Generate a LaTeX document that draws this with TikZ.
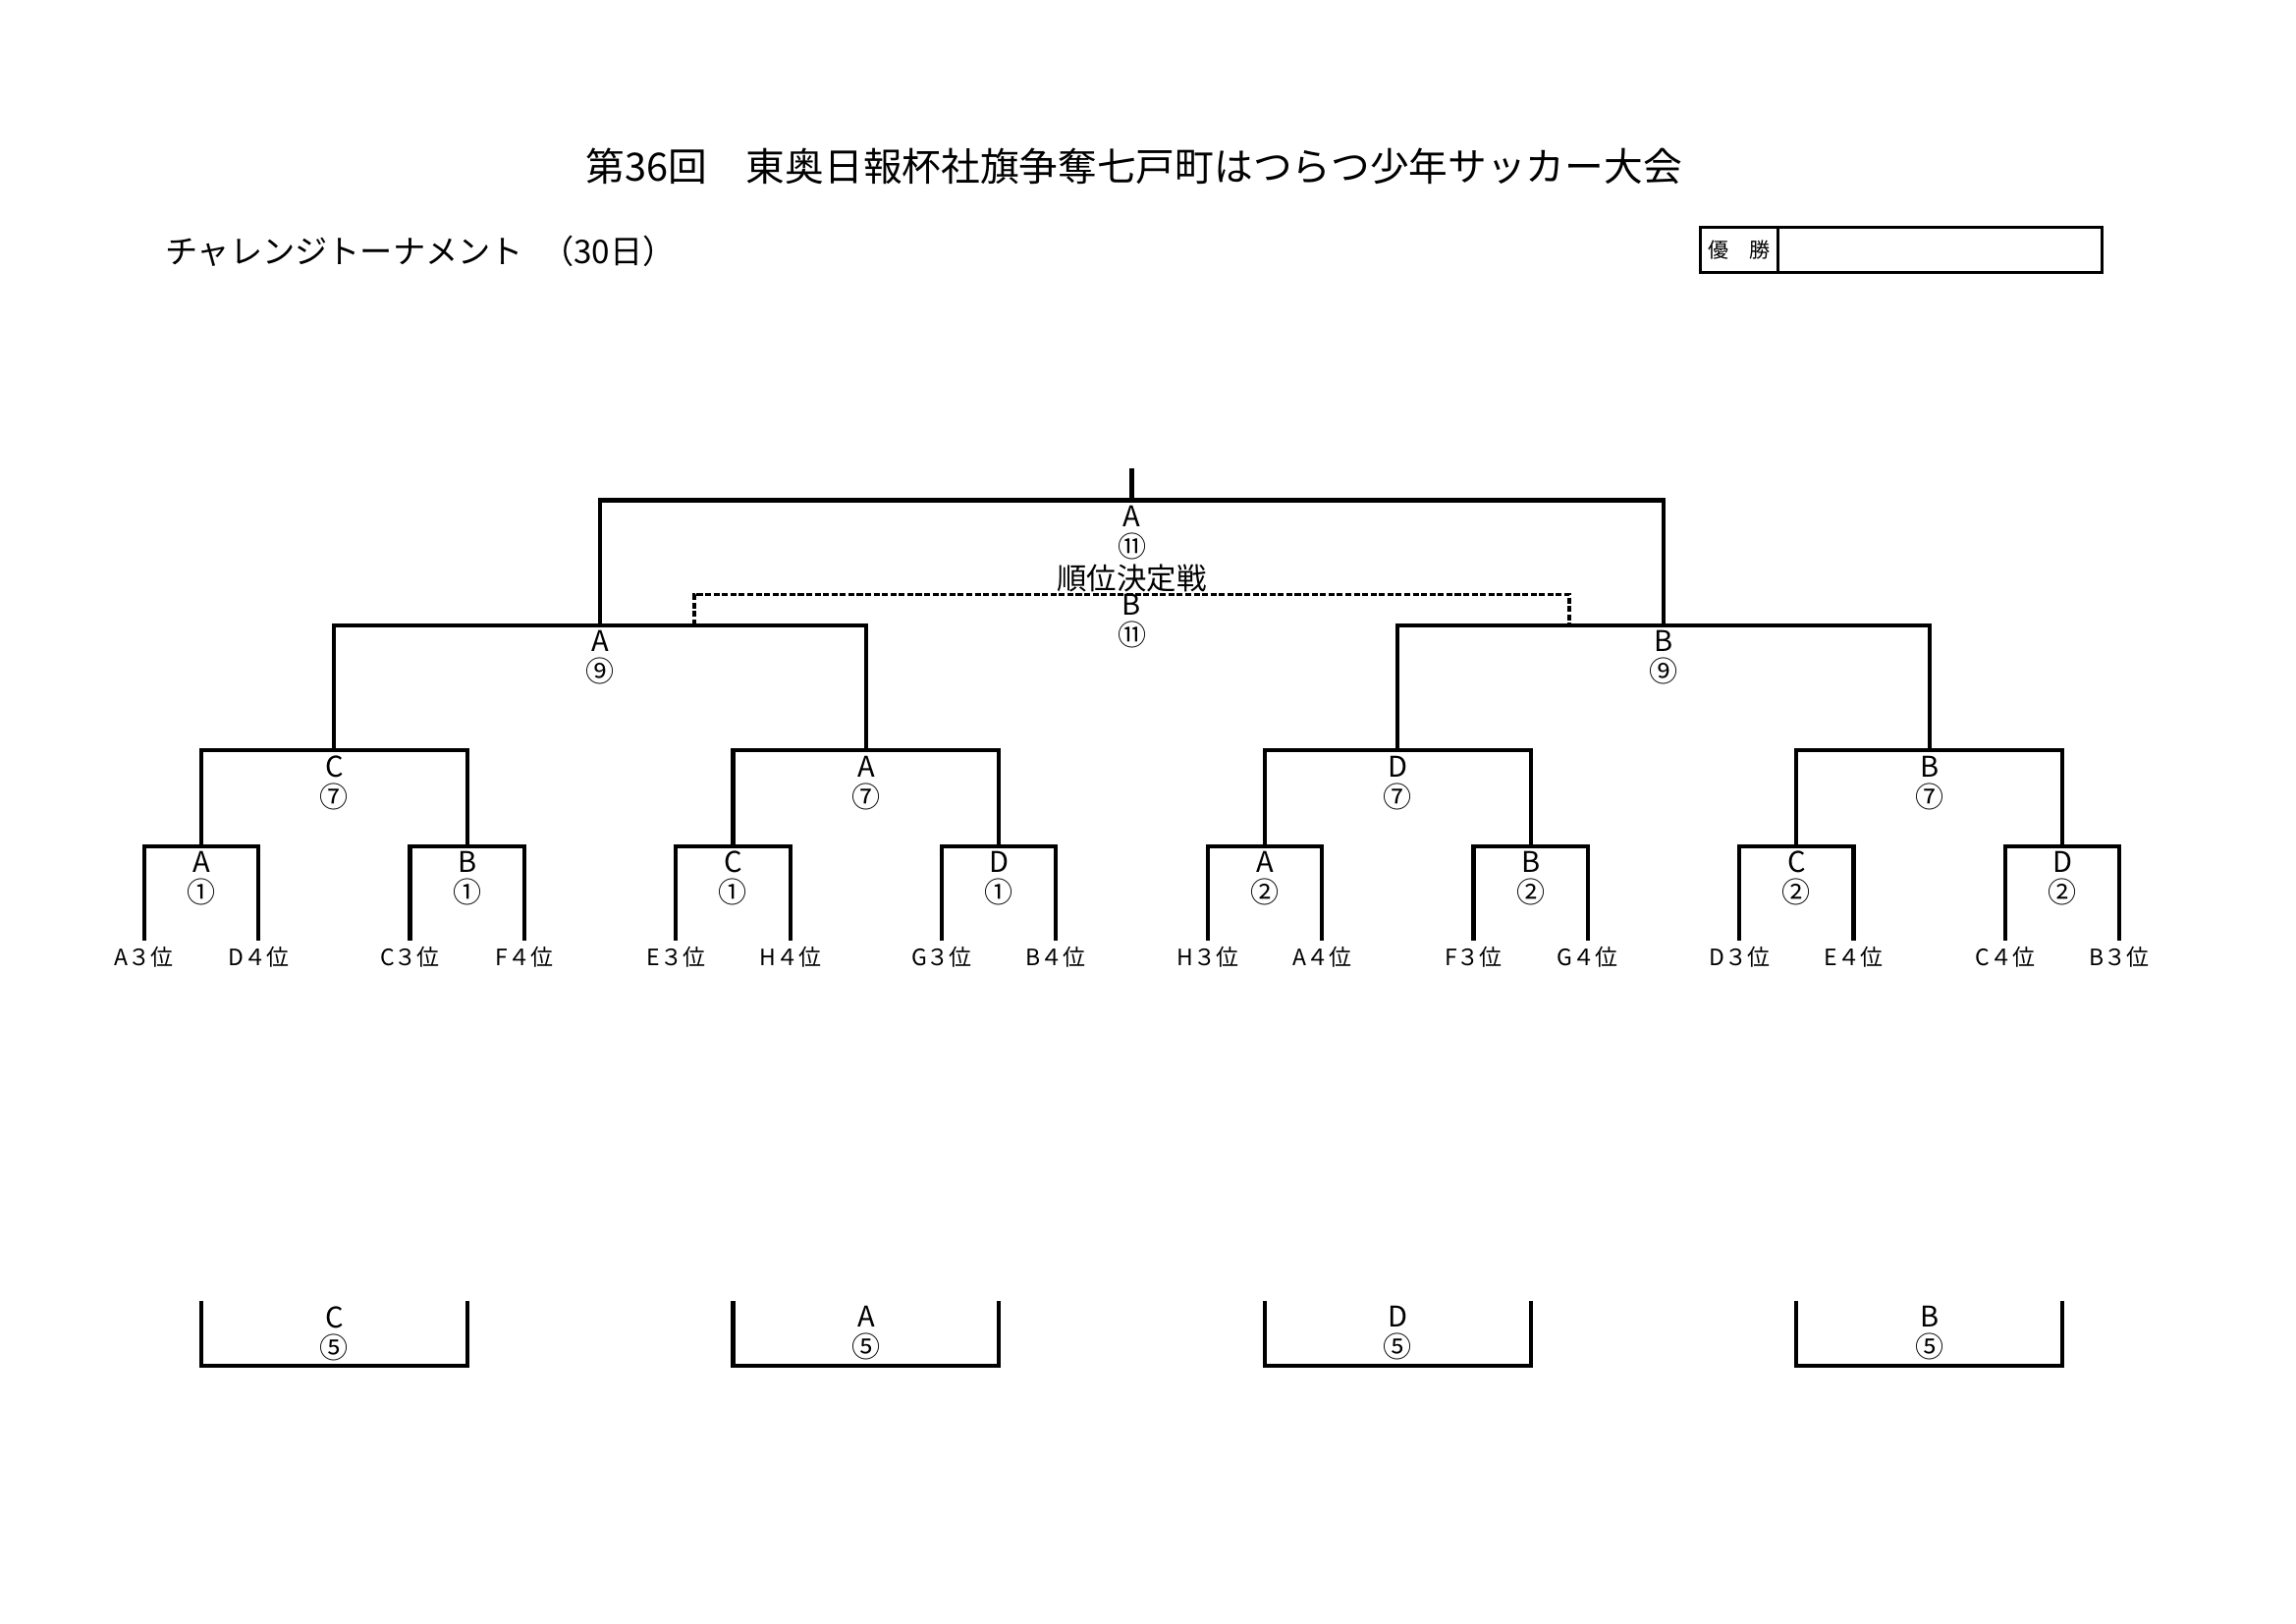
\documentclass[tikz,border=0pt]{standalone}
\usepackage{fontspec}
\setmainfont{Noto Sans CJK JP}
\usetikzlibrary{positioning}

\begin{document}
\begin{tikzpicture}[x=0.190385mm, y=-0.190385mm,
					bracket/.style={line width=1.5pt},
					loser bracket/.style={line width=1.4pt, dash pattern=on 2.2pt off 0.9pt},
					match/.style={anchor=north, align=center, inner sep=2pt, outer sep=0pt, font=\fontsize{10.5}{11.2}\selectfont},
					team/.style={anchor=north, inner sep=2.5pt, outer sep=0pt, font=\fontsize{8.3}{9}\selectfont},
					win cell/.style={draw, line width=1.1pt, outer sep=0pt, inner sep=0pt, minimum height=5.79mm},
				]
					\useasboundingbox (0,0) rectangle (1560,1103.6);
					
					\node[font=\fontsize{14.35}{16}\selectfont] (title) at (770.5,113) {第36回　東奥日報杯社旗争奪七戸町はつらつ少年サッカー大会};
					\node[anchor=west, font=\fontsize{12}{14}\selectfont] (sub) at (105.6,171) {チャレンジトーナメント\hspace{0.55em}（30日）};
					\node[win cell, minimum width=9.94mm, font=\fontsize{7.6}{9}\selectfont] (winhead) at (1181.6,169.8) {優　勝};
					\node[win cell, minimum width=41.94mm, right=0pt of winhead] (winner) {};
					
					\node[team] (t1) at (98,639) {A３位};
					\node[team] (t2) at (175.6,639) {D４位};
					\node[team] (t3) at (278.6,639) {C３位};
					\node[team] (t4) at (356.2,639) {F４位};
					\node[team] (t5) at (459.3,639) {E３位};
					\node[team] (t6) at (536.9,639) {H４位};
					\node[team] (t7) at (639.9,639) {G３位};
					\node[team] (t8) at (717.5,639) {B４位};
					\node[team] (t9) at (820.5,639) {H３位};
					\node[team] (t10) at (898.1,639) {A４位};
					\node[team] (t11) at (1001.2,639) {F３位};
					\node[team] (t12) at (1078.8,639) {G４位};
					\node[team] (t13) at (1181.8,639) {D３位};
					\node[team] (t14) at (1259.4,639) {E４位};
					\node[team] (t15) at (1362.4,639) {C４位};
					\node[team] (t16) at (1440,639) {B３位};
					
					\node[match] (r1a) at (136.8,575) {A\\①};
					\node[match] (r1b) at (317.4,575) {B\\①};
					\node[match] (r1c) at (498.1,575) {C\\①};
					\node[match] (r1d) at (678.7,575) {D\\①};
					\node[match] (r1e) at (859.3,575) {A\\②};
					\node[match] (r1f) at (1040,575) {B\\②};
					\node[match] (r1g) at (1220.6,575) {C\\②};
					\node[match] (r1h) at (1401.2,575) {D\\②};
					
					\node[match] (r2a) at (227.1,510) {C\\⑦};
					\node[match] (r2b) at (588.4,510) {A\\⑦};
					\node[match] (r2c) at (949.7,510) {D\\⑦};
					\node[match] (r2d) at (1310.9,510) {B\\⑦};
					
					\node[match] (sfa) at (407.8,425) {A\\⑨};
					\node[match] (sfb) at (1130.3,425) {B\\⑨};
					
					\node[match] (fin) at (769,340) {A\\⑪};
					\coordinate (champ) at (769,318);
					
					\node[match, inner sep=0pt] (third) at (769,404) {B\\⑪};
					\node[anchor=south, inner sep=0.5pt, font=\fontsize{11}{12}\selectfont] (thirdlbl) at (third.north) {順位決定戦};
					\coordinate (losa) at (471.5,425);
					\coordinate (losb) at (1066.5,425);
					
					\draw[bracket] (t1.north) |- (r1a.north) -| (t2.north);
					\draw[bracket] (t3.north) |- (r1b.north) -| (t4.north);
					\draw[bracket] (t5.north) |- (r1c.north) -| (t6.north);
					\draw[bracket] (t7.north) |- (r1d.north) -| (t8.north);
					\draw[bracket] (t9.north) |- (r1e.north) -| (t10.north);
					\draw[bracket] (t11.north) |- (r1f.north) -| (t12.north);
					\draw[bracket] (t13.north) |- (r1g.north) -| (t14.north);
					\draw[bracket] (t15.north) |- (r1h.north) -| (t16.north);
					
					\draw[bracket] (r1a.north) |- (r2a.north) -| (r1b.north);
					\draw[bracket] (r1c.north) |- (r2b.north) -| (r1d.north);
					\draw[bracket] (r1e.north) |- (r2c.north) -| (r1f.north);
					\draw[bracket] (r1g.north) |- (r2d.north) -| (r1h.north);
					
					\draw[bracket] (r2a.north) |- (sfa.north) -| (r2b.north);
					\draw[bracket] (r2c.north) |- (sfb.north) -| (r2d.north);
					
					\draw[bracket] (sfa.north) |- (fin.north) -| (sfb.north);
					\draw[bracket] (fin.north) -- (champ);
					\draw[loser bracket] (losa) |- (third.north) -| (losb);
					
					\node[match] (p5a) at (227.1,884) {C\\⑤};
					\node[match] (p5b) at (588.4,884) {A\\⑤};
					\node[match] (p5c) at (949.7,884) {D\\⑤};
					\node[match] (p5d) at (1310.9,884) {B\\⑤};
					\draw[bracket] (p5a.north) ++(-90.3,0) -- ++(0,44) -- ++(180.6,0) -- ++(0,-44);
					\draw[bracket] (p5b.north) ++(-90.3,0) -- ++(0,44) -- ++(180.6,0) -- ++(0,-44);
					\draw[bracket] (p5c.north) ++(-90.3,0) -- ++(0,44) -- ++(180.6,0) -- ++(0,-44);
					\draw[bracket] (p5d.north) ++(-90.3,0) -- ++(0,44) -- ++(180.6,0) -- ++(0,-44);
				\end{tikzpicture}
\end{document}
